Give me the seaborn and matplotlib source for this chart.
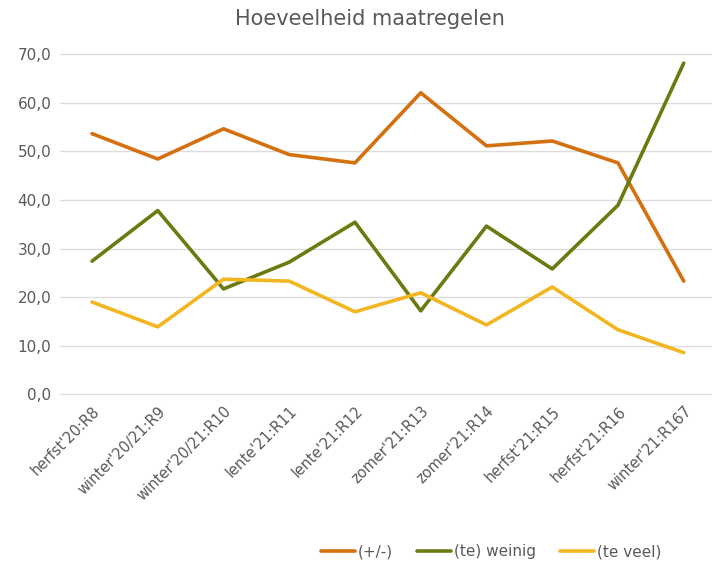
import matplotlib
matplotlib.use('Agg')
import matplotlib.pyplot as plt
import pandas as pd
import seaborn as sns

# data
periods = ["herfst'20:R8", "winter'20/21:R9", "winter'20/21:R10", "lente'21:R11",
           "lente'21:R12", "zomer'21:R13", "zomer'21:R14", "herfst'21:R15",
           "herfst'21:R16", "winter'21:R167"]
neutraal = [53.6, 48.4, 54.6, 49.3, 47.6, 62.0, 51.1, 52.1, 47.6, 23.3]
te_weinig = [27.4, 37.8, 21.7, 27.2, 35.4, 17.2, 34.6, 25.8, 38.9, 68.1]
te_veel = [19.0, 13.9, 23.7, 23.3, 17.0, 20.9, 14.3, 22.1, 13.3, 8.6]
series = ['(+/-)', '(te) weinig', '(te veel)']
colors = ['#D4700F', '#6B7B12', '#F2B622']

df = pd.DataFrame({'periode': periods, series[0]: neutraal,
                   series[1]: te_weinig, series[2]: te_veel})
long = df.melt(id_vars='periode', var_name='reeks', value_name='waarde')

sns.set_theme(style='white')
plt.rcParams['font.family'] = ['DejaVu Sans']
grey = '#595959'

fig = plt.figure(figsize=(7.12, 5.69), dpi=100)
ax = fig.add_axes([0.084, 0.305, 0.916, 0.602])
sns.lineplot(data=long, x='periode', y='waarde', hue='reeks', hue_order=series,
             palette=colors, linewidth=2.6, ax=ax, sort=False)

ax.set_xlim(-0.49, len(periods) - 0.57)
ax.set_ylim(-0.2, 70.2)
ax.set_yticks(range(0, 71, 10))
ax.set_yticklabels([f'{v},0' for v in range(0, 71, 10)], color=grey, fontsize=11)
ax.set_xticks(range(len(periods)))
ax.set_xticklabels(periods, rotation=45, ha='right', rotation_mode='anchor',
                   color=grey, fontsize=10.5)
ax.tick_params(axis='both', length=0, pad=6)
ax.yaxis.grid(True, color='#DDDDDD', linewidth=1)
ax.set_axisbelow(True)
for s in ax.spines.values():
    s.set_visible(False)
ax.set_xlabel('')
ax.set_ylabel('')

fig.suptitle('Hoeveelheid maatregelen', x=0.52, y=0.985, fontsize=15, color=grey)
handles, labels = ax.get_legend_handles_labels()
ax.get_legend().remove()
fig.legend(handles, labels, loc='center', bbox_to_anchor=(0.69, 0.03), ncol=3,
           frameon=False, fontsize=11, labelcolor=grey, handlelength=2.2,
           handletextpad=0.2, columnspacing=1.6)

fig.savefig('out.png', dpi=100)
